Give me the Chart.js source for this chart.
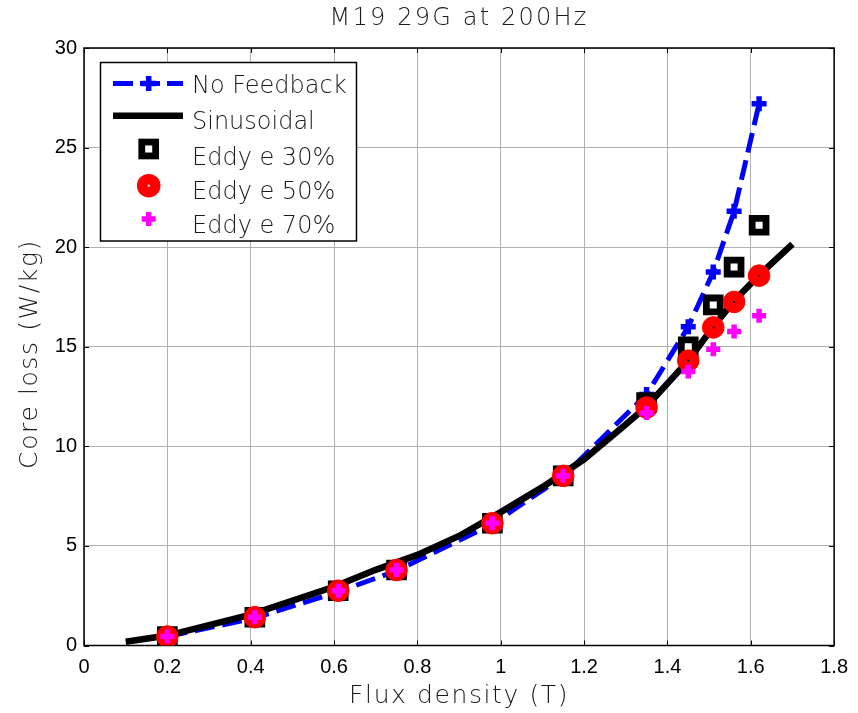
<!DOCTYPE html>
<html><head><meta charset="utf-8">
<script src="https://cdn.jsdelivr.net/npm/chart.js@4/dist/chart.umd.min.js"></script>
<style>html,body{margin:0;padding:0;background:#fff}#wrap{width:858px;height:713px}</style>
</head><body><div id="wrap"><canvas id="c" width="858" height="713"></canvas></div>
<script>
// ---- data ----
const chartTitle = 'M19 29G at 200Hz';
const xAxisTitle = 'Flux density (T)';
const yAxisTitle = 'Core loss (W/kg)';
const legendLabels = ['No Feedback', 'Sinusoidal', 'Eddy e 30%', 'Eddy e 50%', 'Eddy e 70%'];

const xTickValues = [0, 0.2, 0.4, 0.6, 0.8, 1, 1.2, 1.4, 1.6, 1.8];
const yTickValues = [0, 5, 10, 15, 20, 25, 30];

const fluxMeasured = [0.2, 0.41, 0.61, 0.75, 0.98, 1.15, 1.35, 1.45, 1.51, 1.56, 1.62];
const noFeedback   = [0.45, 1.38, 2.70, 3.75, 6.10, 8.50, 12.6, 16.0, 18.75, 21.8, 27.2];
const eddy30       = [0.45, 1.42, 2.75, 3.79, 6.14, 8.52, 12.2, 15.0, 17.1, 19.0, 21.1];
const eddy50       = [0.45, 1.42, 2.75, 3.79, 6.14, 8.52, 11.95, 14.3, 15.97, 17.25, 18.57];
const eddy70       = [0.45, 1.42, 2.75, 3.79, 6.14, 8.52, 11.67, 13.76, 14.88, 15.77, 16.56];

const fluxSinus    = [0.1, 0.2, 0.4, 0.6, 0.7, 0.8, 0.9, 1.0, 1.1, 1.2, 1.3, 1.35, 1.45, 1.51, 1.56, 1.62, 1.7];
const sinusoidal   = [0.19, 0.5, 1.55, 2.95, 3.8, 4.55, 5.5, 6.7, 7.95, 9.35, 11.1, 12.0, 14.3, 16.0, 17.3, 18.6, 20.15];

const toXY = (xs, ys) => xs.map((x, i) => ({x: x, y: ys[i]}));

const BLUE = '#0000ff', RED = '#ff0000', MAG = '#ff00ff';
const TITLE_FONT = '"DejaVu Sans", sans-serif';

const frameAndTicks = {
  id: 'frameAndTicks',
  beforeDatasetsDraw(chart) {
    const {ctx, chartArea: a, scales: {x, y}} = chart;
    ctx.save();
    ctx.strokeStyle = '#000';
    ctx.lineWidth = 1;
    const L = 5;
    ctx.beginPath();
    xTickValues.forEach(v => {
      const px = Math.round(x.getPixelForValue(v)) + 0.5;
      ctx.moveTo(px, a.bottom); ctx.lineTo(px, a.bottom - L);
      ctx.moveTo(px, a.top); ctx.lineTo(px, a.top + L);
    });
    yTickValues.forEach(v => {
      const py = Math.round(y.getPixelForValue(v)) + 0.5;
      ctx.moveTo(a.left, py); ctx.lineTo(a.left + L, py);
      ctx.moveTo(a.right, py); ctx.lineTo(a.right - L, py);
    });
    ctx.stroke();
    ctx.lineWidth = 1.5;
    ctx.strokeRect(a.left, a.top, a.right - a.left, a.bottom - a.top);
    ctx.restore();
  },
  afterDraw(chart) {
    const {ctx, chartArea: a} = chart;
    ctx.save();
    ctx.fillStyle = '#1a1a1a';
    ctx.textAlign = 'center';
    ctx.textBaseline = 'middle';
    // chart title
    ctx.font = '200 24px ' + TITLE_FONT;
    ctx.letterSpacing = '2.2px';
    ctx.fillText(chartTitle, (a.left + a.right) / 2, 19);
    // x title
    ctx.font = '200 25px ' + TITLE_FONT;
    ctx.letterSpacing = '1.6px';
    ctx.fillText(xAxisTitle, (a.left + a.right) / 2, 696);
    // y title
    ctx.save();
    ctx.translate(30, 354);
    ctx.rotate(-Math.PI / 2);
    ctx.fillText(yAxisTitle, 0, 0);
    ctx.restore();
    ctx.letterSpacing = '0px';

    // legend
    const bx = 100.5, by = 62.5, bw = 256, bh = 178.5;
    ctx.fillStyle = '#fff';
    ctx.fillRect(bx, by, bw, bh);
    ctx.strokeStyle = '#000';
    ctx.lineWidth = 1.5;
    ctx.strokeRect(bx, by, bw, bh);

    const ds = chart.data.datasets;
    const mx = 148.7;
    // row 1: no feedback
    let yy = 83.5;
    ctx.strokeStyle = ds[0].borderColor;
    ctx.lineWidth = ds[0].borderWidth;
    ctx.setLineDash([20, 7]);
    ctx.beginPath(); ctx.moveTo(113, yy); ctx.lineTo(183, yy); ctx.stroke();
    ctx.setLineDash([]);
    ctx.lineWidth = ds[0].pointBorderWidth;
    const r0 = ds[0].pointRadius;
    ctx.beginPath(); ctx.moveTo(mx - r0, yy); ctx.lineTo(mx + r0, yy);
    ctx.moveTo(mx, yy - r0); ctx.lineTo(mx, yy + r0); ctx.stroke();
    // row 2: sinusoidal
    yy = 115.7;
    ctx.strokeStyle = ds[1].borderColor;
    ctx.lineWidth = ds[1].borderWidth;
    ctx.beginPath(); ctx.moveTo(113, yy); ctx.lineTo(183, yy); ctx.stroke();
    // row 3: square
    yy = 149;
    ctx.lineWidth = ds[2].pointBorderWidth;
    ctx.strokeStyle = '#000';
    const s = Math.SQRT1_2 * ds[2].pointRadius;
    ctx.fillStyle = '#fff';
    ctx.fillRect(mx - s, yy - s, 2 * s, 2 * s);
    ctx.strokeRect(mx - s, yy - s, 2 * s, 2 * s);
    // row 4: circle
    yy = 185.7;
    ctx.fillStyle = RED;
    ctx.beginPath(); ctx.arc(mx, yy, ds[3].pointRadius + 1, 0, Math.PI * 2); ctx.fill();
    ctx.fillStyle = '#fff';
    ctx.fillRect(mx - 1, yy - 1, 2, 2);
    // row 5: plus
    yy = 219;
    ctx.strokeStyle = MAG;
    ctx.lineWidth = ds[4].pointBorderWidth;
    const r4 = ds[4].pointRadius;
    ctx.beginPath(); ctx.moveTo(mx - r4, yy); ctx.lineTo(mx + r4, yy);
    ctx.moveTo(mx, yy - r4); ctx.lineTo(mx, yy + r4); ctx.stroke();

    ctx.fillStyle = '#1a1a1a';
    ctx.textAlign = 'left';
    ctx.textBaseline = 'alphabetic';
    ctx.font = '200 24px ' + TITLE_FONT;
    const rowsY = [84, 120, 155.7, 190, 224];
    legendLabels.forEach((t, i) => ctx.fillText(t, 192, rowsY[i] + 8.8));
    ctx.restore();
  }
};

new Chart(document.getElementById('c'), {
  type: 'scatter',
  data: {
    datasets: [
      { label: legendLabels[0], data: toXY(fluxMeasured, noFeedback), showLine: true,
        borderColor: BLUE, borderWidth: 5, borderDash: [20, 8], backgroundColor: BLUE,
        pointStyle: 'cross', pointRadius: 7.5, pointBorderWidth: 5.5, pointBorderColor: BLUE,
        pointHoverRadius: 7.5, order: 6 },
      { label: legendLabels[1], data: toXY(fluxSinus, sinusoidal), showLine: true,
        borderColor: '#000', borderWidth: 6.5, pointRadius: 0, pointHoverRadius: 0, order: 5 },
      { label: legendLabels[2], data: toXY(fluxMeasured, eddy30),
        pointStyle: 'rect', pointRadius: 9.8, pointBorderWidth: 6.8, pointBorderColor: '#000',
        pointBackgroundColor: '#fff', pointHoverRadius: 9.8, order: 4 },
      { label: legendLabels[3], data: toXY(fluxMeasured, eddy50),
        pointStyle: 'circle', pointRadius: 10.8, pointBorderWidth: 1, pointBorderColor: RED,
        pointBackgroundColor: RED, pointHoverRadius: 10.8, order: 3 },
      { label: legendLabels[4], data: toXY(fluxMeasured, eddy70),
        pointStyle: 'cross', pointRadius: 7, pointBorderWidth: 5.5, pointBorderColor: MAG,
        backgroundColor: MAG, pointHoverRadius: 7, order: 1 },
      { label: 'centre', data: toXY(fluxMeasured, eddy50),
        pointStyle: 'circle', pointRadius: 1, pointBorderWidth: 0,
        pointBackgroundColor: '#000', pointHoverRadius: 1, order: 2 }
    ]
  },
  options: {
    responsive: false,
    devicePixelRatio: 1,
    animation: false,
    events: [],
    layout: { padding: { top: 48, right: 18.5, left: 0, bottom: 0 } },
    plugins: { legend: { display: false }, title: { display: false }, tooltip: { enabled: false } },
    scales: {
      x: {
        type: 'linear', min: 0, max: 1.8,
        afterFit(s) { s.height = 67.5; },
        afterBuildTicks(s) { s.ticks = xTickValues.map(v => ({value: v})); },
        grid: { color: '#b0b0b0', lineWidth: 1, drawTicks: false },
        border: { display: false },
        ticks: { padding: 10, color: '#000', font: { family: '"Liberation Sans", Arial, sans-serif', size: 20 },
          callback: v => String(Math.round(v * 10) / 10) }
      },
      y: {
        type: 'linear', min: 0, max: 30,
        afterFit(s) { s.width = 84; },
        afterBuildTicks(s) { s.ticks = yTickValues.map(v => ({value: v})); },
        grid: { color: '#b0b0b0', lineWidth: 1, drawTicks: false },
        border: { display: false },
        ticks: { padding: 7, color: '#000', font: { family: '"Liberation Sans", Arial, sans-serif', size: 20 },
          callback: v => String(v) }
      }
    }
  },
  plugins: [frameAndTicks]
});
</script>
</body></html>
